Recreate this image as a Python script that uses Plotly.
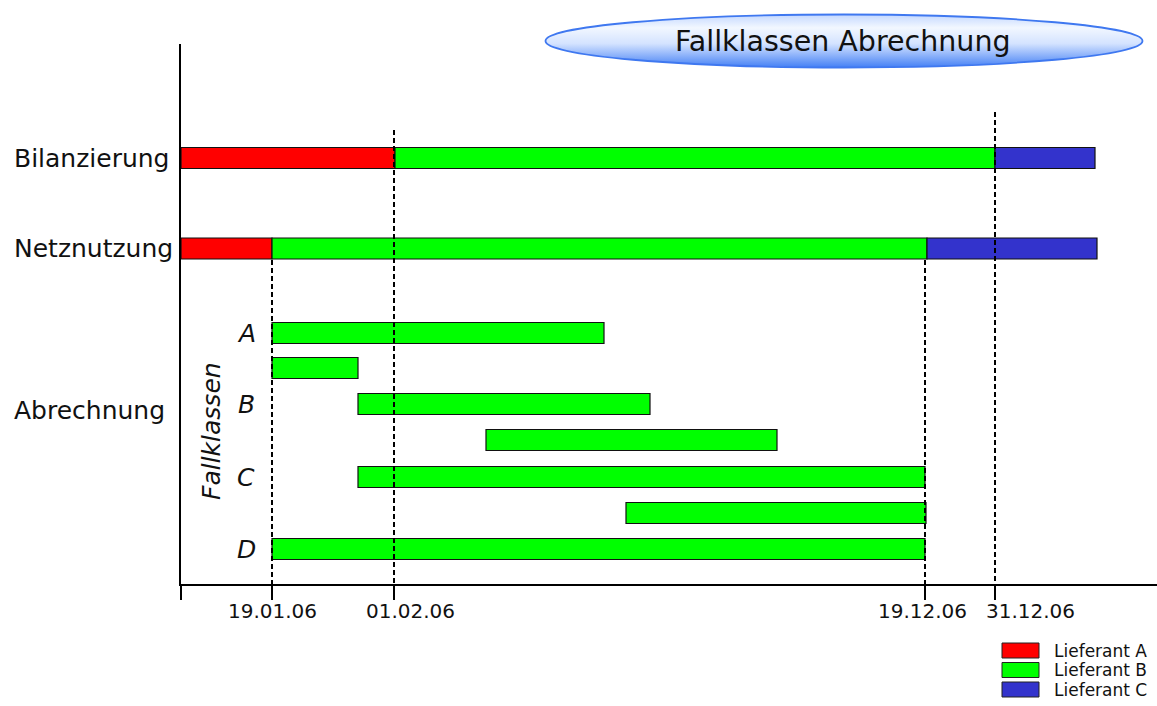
import base64
import plotly.graph_objects as go

# ---------------- data ----------------
# abstract time axis (0 = start of the period)
tick_vals = [0, 91, 213, 744, 814]
tick_text = ["", "19.01.06", "01.02.06", "19.12.06", "31.12.06"]
tick_label_shift = [0, 0, 16, -3, 35]

# rows and their vertical positions (axis units)
row_names = ["Bilanzierung", "Netznutzung", "A", "A2", "B", "B2", "C", "C2", "D"]
row_pos = [158, 248.5, 333, 368, 404, 440, 477, 513, 549]

# segments per supplier
lief_a_rows = ["Bilanzierung", "Netznutzung"]
lief_a_start = [0, 0]
lief_a_end = [214, 91]

lief_b_rows = ["Bilanzierung", "Netznutzung", "A", "A2", "B", "B2", "C", "C2", "D"]
lief_b_start = [214, 91, 91, 91, 177, 305, 177, 445, 91]
lief_b_end = [814, 746, 423, 177, 469, 596, 744, 745, 744]

lief_c_rows = ["Bilanzierung", "Netznutzung"]
lief_c_start = [814, 746]
lief_c_end = [914, 916]

supplier_names = ["Lieferant A", "Lieferant B", "Lieferant C"]
supplier_colors = ["#ff0000", "#00ff00", "#3333cc"]

# key dates marked with dashed lines and the top of each line (axis units)
marker_dates = [91, 213, 744, 814]
marker_tops = [260, 130, 260, 112]

# row group labels
group_labels = ["Bilanzierung", "Netznutzung", "Abrechnung"]
group_pos = [158, 248.5, 410]
class_letters = ["A", "B", "C", "D"]
class_pos = [333, 404, 477, 549]

title_text = "Fallklassen Abrechnung"

# ---------------- figure ----------------
W, H = 1157, 706
ML, MT, MB = 181, 44, 122
PW, PH = W - ML, H - MT - MB
FONT = "DejaVu Sans"


def px(x):
    return (x - ML) / PW


def py(y):
    return (MT + PH - y) / PH


pos = dict(zip(row_names, row_pos))

fig = go.Figure()
for name, color, rows, st, en in [
    (supplier_names[0], supplier_colors[0], lief_a_rows, lief_a_start, lief_a_end),
    (supplier_names[1], supplier_colors[1], lief_b_rows, lief_b_start, lief_b_end),
    (supplier_names[2], supplier_colors[2], lief_c_rows, lief_c_start, lief_c_end),
]:
    fig.add_trace(go.Bar(
        orientation="h",
        y=[pos[r] for r in rows],
        base=st,
        x=[e - s for s, e in zip(st, en)],
        width=21,
        marker=dict(color=color, line=dict(color="#111111", width=1.2)),
        name=name,
        showlegend=False,
        hoverinfo="skip",
    ))

shapes = []
for xd, top in zip(marker_dates, marker_tops):
    shapes.append(dict(type="line", xref="x", yref="y", x0=xd, x1=xd, y0=top, y1=584,
                       line=dict(color="black", width=2, dash="5px,3px"), layer="above"))

# legend boxes
leg_y = [650.5, 670, 689.5]
for c, ly in zip(supplier_colors, leg_y):
    shapes.append(dict(type="rect", xref="paper", yref="paper",
                       x0=px(1002), x1=px(1039), y0=py(ly - 7.5), y1=py(ly + 7.5),
                       fillcolor=c, line=dict(color="#222222", width=1)))

annotations = []
for t, v, s in zip(tick_text, tick_vals, tick_label_shift):
    if t:
        annotations.append(dict(text=t, xref="x", yref="paper", x=v, y=py(611), xshift=s,
                                xanchor="center", yanchor="middle", showarrow=False,
                                font=dict(family=FONT, size=20, color="#111111")))
for t, yv in zip(group_labels, group_pos):
    annotations.append(dict(text=t, xref="paper", yref="paper", x=px(12), y=py(yv),
                            xanchor="left", yanchor="middle", showarrow=False,
                            font=dict(family=FONT, size=25, color="#111111")))
for t, yv in zip(class_letters, class_pos):
    annotations.append(dict(text="<i>%s</i>" % t, xref="paper", yref="paper", x=px(246), y=py(yv),
                            xanchor="center", yanchor="middle", showarrow=False,
                            font=dict(family=FONT, size=25, color="#111111")))
annotations.append(dict(text="<i>Fallklassen</i>", xref="paper", yref="paper", x=px(211), y=py(431),
                        xanchor="center", yanchor="middle", textangle=-90, showarrow=False,
                        font=dict(family=FONT, size=25, color="#111111")))
for t, ly in zip(supplier_names, leg_y):
    annotations.append(dict(text=t, xref="paper", yref="paper", x=px(1052), y=py(ly),
                            xanchor="left", yanchor="middle", showarrow=False,
                            font=dict(family=FONT, size=17, color="#111111")))
annotations.append(dict(text=title_text, xref="paper", yref="paper", x=px(843), y=py(41),
                        xanchor="center", yanchor="middle", showarrow=False,
                        font=dict(family=FONT, size=28.5, color="#111111")))

# gradient ellipse for the title
svg = ('<svg xmlns="http://www.w3.org/2000/svg" width="600" height="56" viewBox="0 0 600 56">'
       '<defs><linearGradient id="g" x1="0" y1="0" x2="0" y2="1">'
       '<stop offset="0" stop-color="#c4d8ff"/>'
       '<stop offset="0.25" stop-color="#f2f7ff"/>'
       '<stop offset="0.55" stop-color="#d4e3ff"/>'
       '<stop offset="1" stop-color="#4480f5"/>'
       '</linearGradient></defs>'
       '<ellipse cx="300" cy="28" rx="298.5" ry="26.5" fill="url(#g)" stroke="#3f78f0" stroke-width="1.8"/>'
       '</svg>')
src = "data:image/svg+xml;base64," + base64.b64encode(svg.encode()).decode()

fig.update_layout(
    width=W, height=H,
    margin=dict(l=ML, r=0, t=MT, b=MB, pad=0),
    paper_bgcolor="white", plot_bgcolor="white",
    barmode="overlay",
    showlegend=False,
    shapes=shapes,
    annotations=annotations,
    images=[dict(source=src, xref="paper", yref="paper", x=px(544), y=py(13),
                 sizex=600 / PW, sizey=56 / PH, sizing="stretch",
                 xanchor="left", yanchor="top", layer="above")],
    xaxis=dict(range=[0, PW], showgrid=False, zeroline=False, showline=True,
               linecolor="black", linewidth=2, ticks="outside", ticklen=14,
               tickwidth=1.5, tickcolor="black", tickvals=tick_vals,
               showticklabels=False, fixedrange=True),
    yaxis=dict(range=[MT + PH, MT], showgrid=False, zeroline=False, showline=True,
               linecolor="black", linewidth=1.5, showticklabels=False, ticks="",
               fixedrange=True),
)

fig.write_html("out.html", config={"displayModeBar": False},
               post_script="document.body.style.margin='0';document.body.style.overflow='hidden';")
